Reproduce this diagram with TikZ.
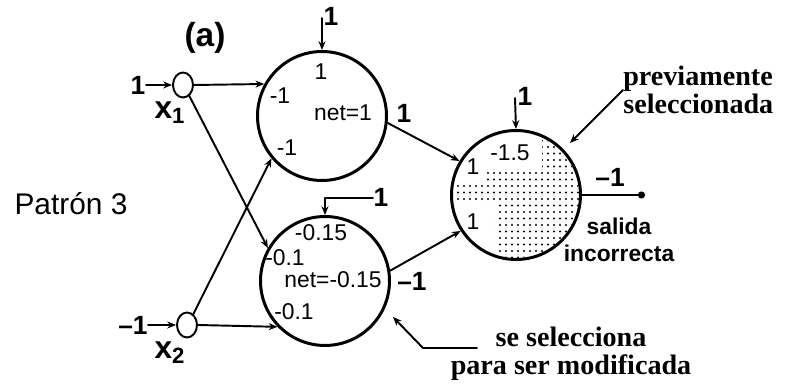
\documentclass[tikz,border=0pt]{standalone}
\usepackage{fontspec}
\setmainfont{Liberation Serif}
\setsansfont{Liberation Sans}
\usetikzlibrary{arrows.meta,shapes.geometric}

\begin{document}
\begin{tikzpicture}[x=0.02cm,y=-0.02cm,line cap=round,line join=round,
  neuron/.style={circle,draw,line width=1.7pt,minimum size=2.58cm,inner sep=0pt},
  inp/.style={ellipse,draw,line width=1.1pt,minimum width=0.4cm,minimum height=0.5cm,inner sep=0pt},
  conn/.style={line width=1.1pt,-{Stealth[length=5pt,width=4pt]}},
  big/.style={font=\sffamily\bfseries\fontsize{15}{15}\selectfont,inner sep=0pt},
  wt/.style={font=\sffamily\fontsize{13}{13}\selectfont,inner sep=0pt},
  note/.style={font=\bfseries\fontsize{16}{16}\selectfont,inner sep=0pt}]
  \useasboundingbox (0,0) rectangle (785,384);
  % neurons
  \node[inp] (x1) at (183,85) {};
  \node[inp] (x2) at (187,325) {};
  \node[neuron] (h1) at (322,116) {};
  \node[neuron] (h2) at (325,281) {};
  \node[neuron] (out) at (516,195) {};
  % dotted fill of the output neuron
  \begin{scope}
    \clip (out.center) circle[radius=1.26cm];
    \clip (542,140)--(600,140)--(600,270)--(495,270)--(495,202)--(456,202)--(456,183)--(487,183)--(487,171)--(542,171)--cycle;
    \foreach \i in {0,...,24}{\foreach \j in {0,...,22}{\fill (452+6*\i,134+6.5*\j) circle[radius=1.15];}}
  \end{scope}
  % inputs
  \coordinate (i1) at (146,85);\coordinate (i2) at (148,325);
  \node[big] (v1) at (138,85) {1};\node[big] (v2) at (133,325) {\textendash1};
  \draw[conn] (i1) -- (x1.west);\draw[conn] (i2) -- (x2.west);
  \node[big,font=\sffamily\bfseries\fontsize{18}{18}\selectfont] (l1) at (170,113) {x\textsubscript{1}};
  \node[big,font=\sffamily\bfseries\fontsize{18}{18}\selectfont] (l2) at (170,353) {x\textsubscript{2}};
  \draw[conn] (x1.east) -- (h1.151);
  \draw[conn] (x1.300) -- (h2.150);
  \draw[conn] (x2.60) -- (h1.220);
  \draw[conn] (x2.east) -- (h2.224);
  % bias
  \coordinate (b1) at (322,18);\coordinate (b2) at (373,198);\coordinate (b3) at (515,98);
  \draw[conn] (b1) -- (h1.north);\draw[conn] (b2) -| (h2.north);\draw[conn] (b3) -- (out.north);
  \node[big] (c1) at (331,16) {1};\node[big] (c2) at (381,197) {1};\node[big] (c3) at (525,96) {1};
  % hidden to output
  \draw[conn] (h1.-6) -- (out.149);
  \draw[conn] (h2.9) -- (out.213);
  \node[big] (o1) at (404,113) {1};\node[big] (o2) at (412,281) {\textendash1};
  \coordinate (y) at (645,195);
  \draw[line width=1.1pt,-{Circle[length=4pt]}] (out.east) -- (y);
  \node[big] (yv) at (610,177) {\textendash1};
  % weights
  \node[wt] (w11) at (321,72) {1};\node[wt] (w12) at (280,96) {-1};
  \node[wt] (w13) at (287,148) {-1};\node[wt] (n1) at (343,113) {net=1};
  \node[wt] (w21) at (321,233) {-0.15};\node[wt] (w22) at (285,258) {-0.1};
  \node[wt] (n2) at (333,280) {net=-0.15};\node[wt] (w23) at (294,312) {-0.1};
  \node[wt] (w31) at (510,153) {-1.5};\node[wt] (w32) at (473,167) {1};\node[wt] (w33) at (473,222) {1};
  % texts
  \node[big,font=\sffamily\bfseries\fontsize{19}{19}\selectfont] (tag) at (205,38) {(a)};
  \node[wt,font=\sffamily\fontsize{17}{17}\selectfont] (pat) at (71,204) {Patrón 3};
  \node[wt,font=\sffamily\bfseries\fontsize{13}{15}\selectfont,align=center] (sal) at (619,240) {salida\\incorrecta};
  \node[note,anchor=west,align=left] (prev) at (623,90) {previamente\\seleccionada};
  \node[note,align=center] (sel) at (571,354) {se selecciona\\para ser modificada};
  \coordinate (a1) at (570,143);\coordinate (a2) at (423,348);\coordinate (a3) at (393,317);
  \draw[conn] (prev.west) -- (a1);
  \draw[conn] (477,348) -- (a2) -- (a3);
\end{tikzpicture}
\end{document}
